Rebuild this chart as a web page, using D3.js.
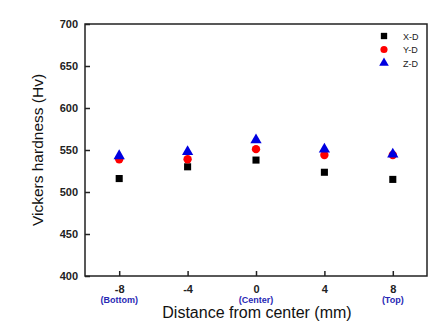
<!DOCTYPE html>
<html><head><meta charset="utf-8">
<script src="https://cdn.jsdelivr.net/npm/d3@7"></script>
<style>body{margin:0;background:#fff;} svg{display:block;font-family:"Liberation Sans",Arial,sans-serif;}</style>
</head><body>
<svg id="c" width="447" height="335"></svg>
<script>
const positions = [-8, -4, 0, 4, 8];
const posLabels = ["(Bottom)", "", "(Center)", "", "(Top)"];
const xTicks = [-8, -4, 0, 4, 8];
const yTicks = [400, 450, 500, 550, 600, 650, 700];
const xD = [516, 530, 538, 523.5, 515];
const yD = [539, 539, 551, 544, 544];
const zD = [543, 548, 562, 551, 545];
const seriesNames = ["X-D", "Y-D", "Z-D"];

const svg = d3.select("#c");
const L = 85, R = 427, T = 24, B = 276;
const x = d3.scaleLinear().domain([-10, 10]).range([L, R]);
const y = d3.scaleLinear().domain([400, 700]).range([B, T]);

svg.append("rect").attr("x", L).attr("y", T).attr("width", R - L).attr("height", B - T)
  .attr("fill", "none").attr("stroke", "#222").attr("stroke-width", 1.5);

const xAxis = svg.append("g").attr("transform", `translate(0,${B})`)
  .call(d3.axisBottom(x).tickValues(xTicks).tickSizeInner(-5).tickSizeOuter(0).tickPadding(9).tickFormat(d => String(d)));
xAxis.select(".domain").remove();
xAxis.selectAll("line").attr("stroke", "#222").attr("stroke-width", 1.5);
xAxis.selectAll("text").attr("font-size", 11).attr("font-weight", "bold").attr("fill", "#222");

const yAxis = svg.append("g").attr("transform", `translate(${L},0)`)
  .call(d3.axisLeft(y).tickValues(yTicks).tickSizeInner(-5).tickSizeOuter(0).tickPadding(7));
yAxis.select(".domain").remove();
yAxis.selectAll("line").attr("stroke", "#222").attr("stroke-width", 1.5);
yAxis.selectAll("text").attr("font-size", 11).attr("font-weight", "bold").attr("fill", "#222");

svg.append("g").selectAll("text").data(positions.map((p, i) => ({p, t: posLabels[i]})).filter(d => d.t))
  .join("text").attr("x", d => x(d.p)).attr("y", 303).attr("text-anchor", "middle")
  .attr("font-size", 9).attr("font-weight", "bold").attr("fill", "#2828b4").text(d => d.t);

svg.append("text").attr("x", x(0) + 1).attr("y", 318).attr("text-anchor", "middle")
  .attr("font-size", 16).attr("fill", "#111").text("Distance from center (mm)");
svg.append("text").attr("transform", `translate(43,${(T + B) / 2}) rotate(-90)`)
  .attr("text-anchor", "middle").attr("font-size", 15.5).attr("fill", "#111").text("Vickers hardness (Hv)");

const sq = d3.symbol().type(d3.symbolSquare).size(50);
const ci = d3.symbol().type(d3.symbolCircle).size(55);
const tr = d3.symbol().type(d3.symbolTriangle).size(55);
const series = [
  {data: xD, sym: sq, color: "#000"},
  {data: yD, sym: ci, color: "#ff0000"},
  {data: zD, sym: tr, color: "#0000e0"}
];
series.forEach(s => {
  svg.append("g").selectAll("path").data(positions.map((p, i) => [p, s.data[i]]))
    .join("path").attr("d", s.sym()).attr("fill", s.color)
    .attr("transform", d => `translate(${x(d[0])},${y(d[1])})`);
});

const ly = [36, 49.5, 63];
series.forEach((s, i) => {
  svg.append("path").attr("d", s.sym.size(40)()).attr("fill", s.color)
    .attr("transform", `translate(384,${ly[i]})`);
  svg.append("text").attr("x", 403).attr("y", ly[i] + 3.5).attr("font-size", 9)
    .attr("fill", "#222").text(seriesNames[i]);
});
</script>
</body></html>
